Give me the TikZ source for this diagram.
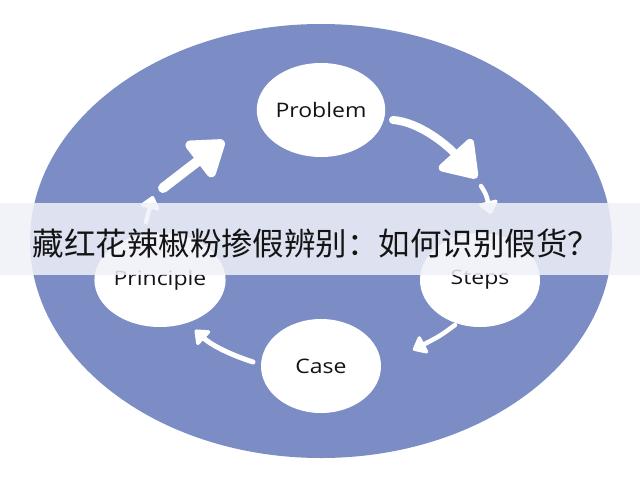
\documentclass[tikz,border=0pt]{standalone}
\usepackage{fontspec}
\usepackage{graphicx}
\setmainfont{Open Sans}
\newfontfamily\cjk{Noto Sans CJK SC}
\usetikzlibrary{shapes.geometric,arrows.meta}
\definecolor{bluefill}{RGB}{123,141,196}
\definecolor{bandcol}{RGB}{240,241,248}
\definecolor{txt}{RGB}{20,20,20}
\newcommand\lbl[1]{\scalebox{1.15}[1]{#1}}
\begin{document}
\begin{tikzpicture}[x=1pt,y=-1pt,
  stage/.style={ellipse, fill=white, minimum width=120pt, minimum height=94pt,
    inner sep=0pt, font=\fontsize{20}{20}\selectfont, text=txt},
  bigarrow/.style={white, line width=8pt, line cap=round,
    -{Triangle[width=50pt,length=38pt,round]}},
  smallarrow/.style={white, line width=4.5pt, line cap=round,
    -{Triangle[width=22pt,length=14pt,round]}}]
\useasboundingbox (0,0) rectangle (640,480);
\fill[white] (0,0) rectangle (640,480);
\node[ellipse, fill=bluefill, minimum width=582pt, minimum height=434pt, inner sep=0pt] (bg) at (321,241) {};
\node[stage] (problem) at (321,110) {\lbl{Problem}};
\node[stage] (steps) at (480,280) {\lbl{Steps}};
\node[stage] (case) at (321,366) {\lbl{Case}};
\node[stage] (principle) at (160,280) {\lbl{Principle}};
% Problem -> Steps
\coordinate (a1s) at (393,120);
\coordinate (a1e) at (477,178);
\draw[bigarrow] (a1s) .. controls (420,122) and (448,146) .. (a1e);
\coordinate (a2s) at (481,186);
\coordinate (a2e) at (491,214);
\draw[smallarrow] (a2s) .. controls (486,194) .. (a2e);
% Steps -> Case
\coordinate (a3s) at (455,325);
\coordinate (a3e) at (413,350);
\draw[smallarrow] (a3s) .. controls (440,336) .. (a3e);
% Case -> Principle
\coordinate (a4s) at (253,362);
\coordinate (a4e) at (195,330);
\draw[smallarrow, line width=5pt] (a4s) .. controls (228,354) and (210,344) .. (a4e);
% Principle -> Problem
\coordinate (a5s) at (146,222);
\coordinate (a5e) at (153,196);
\draw[smallarrow] (a5s) -- (a5e);
\coordinate (a6s) at (163,188);
\coordinate (a6e) at (224,141);
\draw[bigarrow, line width=10pt] (a6s) -- (a6e);
% band
\fill[bandcol, opacity=0.85] (0,203) rectangle (640,275);
\node[font=\cjk\fontsize{31.5}{31.5}\selectfont, text=txt, inner sep=0pt] (title) at (316,243) {藏红花辣椒粉掺假辨别：如何识别假货？};
\end{tikzpicture}
\end{document}
